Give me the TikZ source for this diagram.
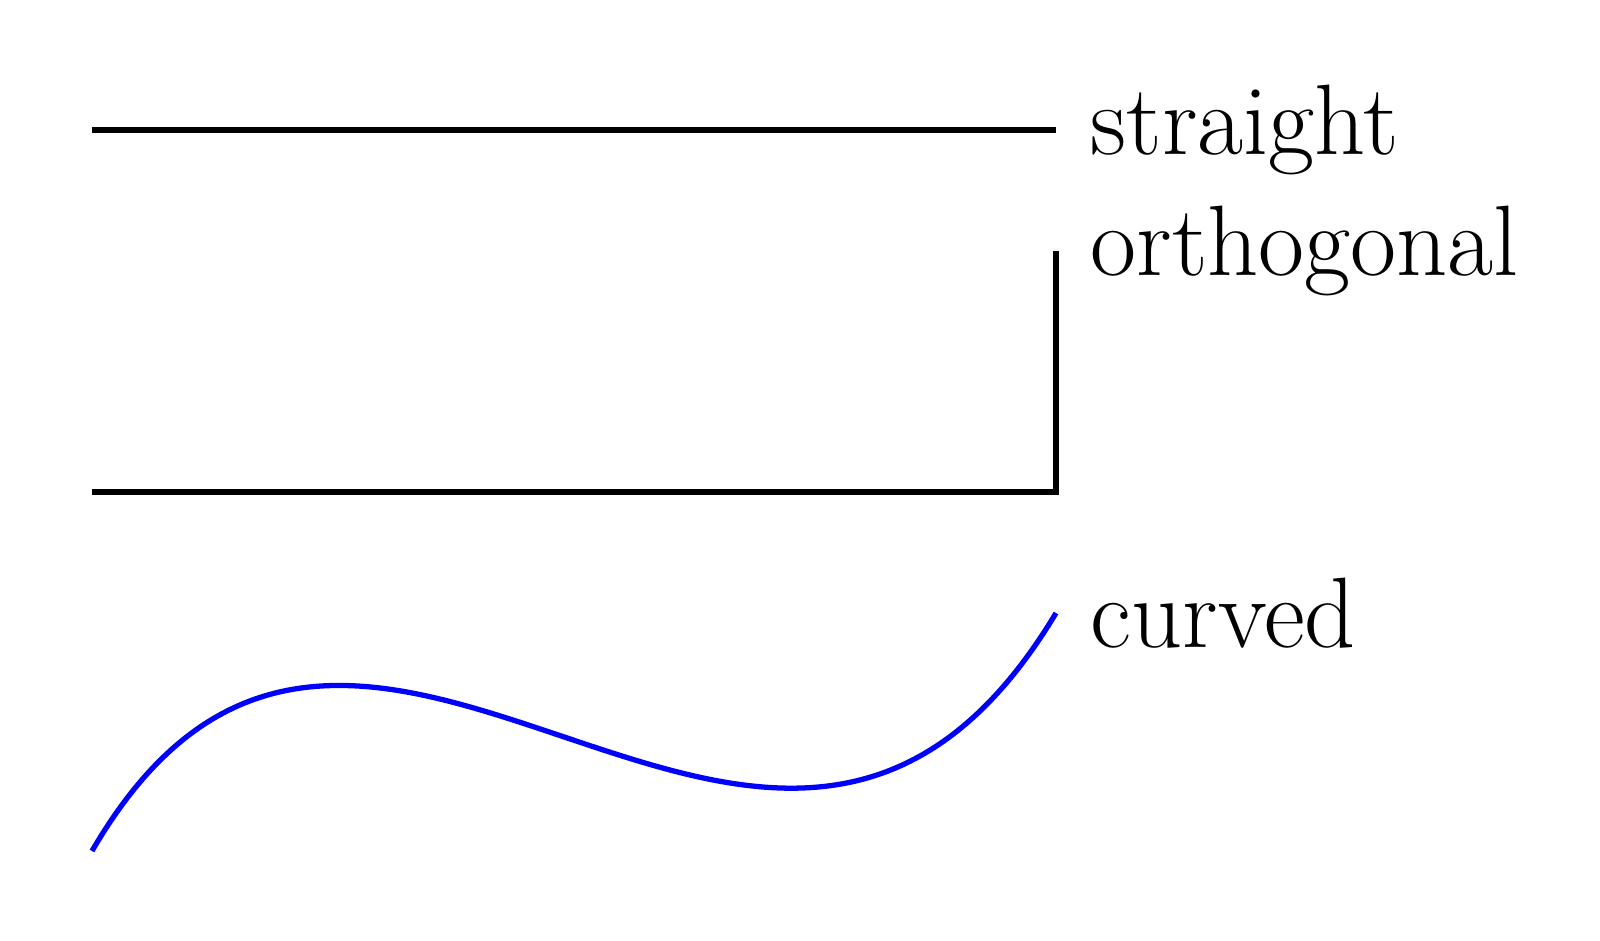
\documentclass[tikz,border=0pt]{standalone}
\usepackage{tikz}
\usetikzlibrary{positioning}

\begin{document}
\begin{tikzpicture}[
  wire/.style={line width=1.5pt},
  lbl/.style={anchor=west, inner sep=0pt, font=\fontsize{28.5}{34}\selectfont}
]
  \useasboundingbox (0,0) rectangle (16,9.4);

  % straight
  \coordinate (sA) at (0.92,8.10);
  \coordinate (sB) at (10.56,8.10);
  \draw[wire] (sA) -- (sB);
  \node[lbl, right=0.34cm of sB] (sLbl) {straight};

  % orthogonal
  \coordinate (oA) at (0.92,4.48);
  \coordinate (oB) at (10.56,6.89);
  \draw[wire] (oA) -| (oB);
  \node[lbl, right=0.34cm of oB] (oLbl) {orthogonal};

  % curved
  \coordinate (cA) at (0.92,0.89);
  \coordinate (cB) at (10.56,3.27);
  \draw[wire, blue] (cA) .. controls (3.6,5.5) and (7.7,-1.5) .. (cB);
  \node[lbl, right=0.34cm of cB] (cLbl) {curved};
\end{tikzpicture}
\end{document}
